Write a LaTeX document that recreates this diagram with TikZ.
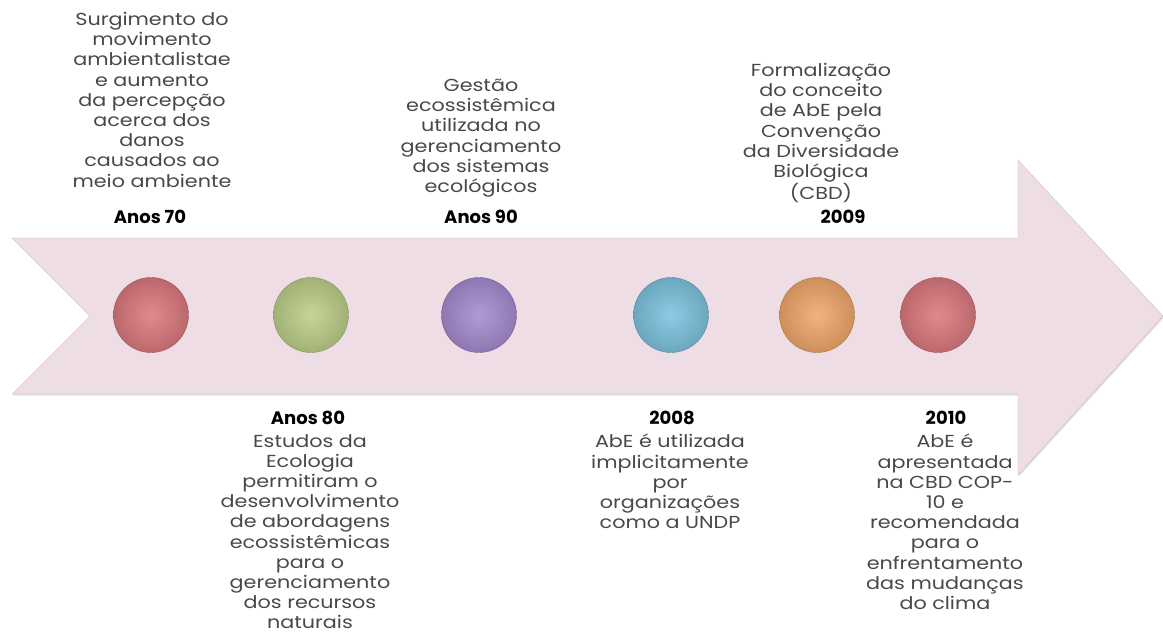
\documentclass[tikz,border=0pt]{standalone}
\usepackage{fontspec}
\setmainfont{Poppins}
\newfontfamily\descfont[FakeStretch=1.19]{Poppins}
\usetikzlibrary{shadows,positioning}
\definecolor{band}{RGB}{238,221,228}
\definecolor{dotred}{RGB}{220,122,128}
\definecolor{dotgreen}{RGB}{190,208,138}
\definecolor{dotpurple}{RGB}{168,140,208}
\definecolor{dotblue}{RGB}{126,196,224}
\definecolor{dotorange}{RGB}{242,168,108}
\definecolor{txt}{RGB}{72,72,72}

\begin{document}
\begin{tikzpicture}
[x=1pt,y=-1pt,
%
dot/.style={shape=circle,minimum size=75pt,inner sep=0pt,shading=radial},
desc/.style={align=center,inner sep=0pt,text=txt,font=\descfont\fontsize{17.4}{20.2}\selectfont},
year/.style={inner sep=0pt,font=\fontsize{18}{20}\selectfont\bfseries},
arrowband/.style={fill=band,draw=band!85!black,line width=.3pt,drop shadow={shadow xshift=1pt,shadow yshift=-1.5pt,opacity=.25}}]
%
\useasboundingbox (0,0) rectangle (1163,635);
%
% arrow
\path[arrowband] (12,238) -- (1018,238) -- (1018,160) -- (1163,316)
   -- (1018,475) -- (1018,394) -- (12,394) -- (90,316) -- cycle;
%%
% dots
\foreach \x/\c/\n in {151/dotred/d1,311/dotgreen/d2,479/dotpurple/d3,671/dotblue/d4,817/dotorange/d5,938/dotred/d6}
   \node (\n) [dot,inner color=\c!88!white,outer color=\c!85!black,draw=\c!70!black,line width=.4pt] at (\x,315) {};
%%
% above the arrow
\node (y70) [year] at (150,217) {Anos 70};
\node (t70) [desc,anchor=north] at (152,12) {Surgimento do\\movimento\\ambientalistae\\e aumento\\da percepção\\acerca dos\\danos\\causados ao\\meio ambiente};
\node (y90) [year] at (481,217) {Anos 90};
\node (t90) [desc,anchor=north] at (481,79) {Gestão\\ecossistêmica\\utilizada no\\gerenciamento\\dos sistemas\\ecológicos};
\node (y09) [year] at (843,217) {2009};
\node (t09) [desc,anchor=north] at (821,63) {Formalização\\do conceito\\de AbE pela\\Convenção\\da Diversidade\\Biológica\\(CBD)};
%%
% below the arrow
\node (y80) [year] at (308,418) {Anos 80};
\node (t80) [desc,anchor=north] at (310,434) {Estudos da\\Ecologia\\permitiram o\\desenvolvimento\\de abordagens\\ecossistêmicas\\para o\\gerenciamento\\dos recursos\\naturais};
\node (y08) [year] at (672,418) {2008};
\node (t08) [desc,anchor=north] at (670,434) {AbE é utilizada\\implicitamente\\por\\organizações\\como a UNDP};
\node (y10) [year] at (946,418) {2010};
\node (t10) [desc,anchor=north] at (945,434) {AbE é\\apresentada\\na CBD COP-\\10 e\\recomendada\\para o\\enfrentamento\\das mudanças\\do clima};
\end{tikzpicture}
\end{document}
